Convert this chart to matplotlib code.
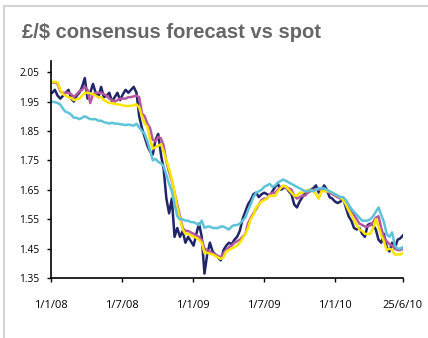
import matplotlib.pyplot as plt
import matplotlib.dates as mdates
from matplotlib.lines import Line2D
import pandas as pd

# weekly observations, first Friday of 2008 to 25 June 2010
dates = pd.date_range("2008-01-04", periods=130, freq="7D")

spot = [1.98, 1.99, 1.97, 1.96, 1.97, 1.98, 1.99, 1.96, 1.95, 1.97,
        1.98, 2.00, 2.03, 1.96, 1.98, 2.01, 1.98, 1.965, 2.00, 1.965,
        1.97, 1.98, 1.95, 1.965, 1.98, 1.955, 1.975, 1.99, 1.98, 1.99,
        2.00, 1.98, 1.90, 1.86, 1.83, 1.80, 1.78, 1.77, 1.82, 1.84,
        1.77, 1.72, 1.62, 1.57, 1.62, 1.49, 1.52, 1.49, 1.51, 1.47,
        1.49, 1.475, 1.46, 1.50, 1.535, 1.49, 1.365, 1.43, 1.47, 1.44,
        1.43, 1.42, 1.41, 1.445, 1.46, 1.47, 1.465, 1.48, 1.49, 1.51,
        1.55, 1.575, 1.60, 1.615, 1.635, 1.64, 1.625, 1.635, 1.64, 1.635,
        1.63, 1.645, 1.66, 1.67, 1.65, 1.655, 1.66, 1.645, 1.635, 1.60,
        1.59, 1.61, 1.625, 1.64, 1.645, 1.65, 1.655, 1.665, 1.64, 1.645,
        1.665, 1.65, 1.625, 1.62, 1.61, 1.605, 1.61, 1.62, 1.59, 1.56,
        1.545, 1.52, 1.515, 1.52, 1.50, 1.49, 1.53, 1.535, 1.53, 1.515,
        1.48, 1.47, 1.50, 1.455, 1.44, 1.47, 1.45, 1.48, 1.485, 1.495]

fc_cyan = [1.95, 1.948, 1.945, 1.94, 1.925, 1.915, 1.912, 1.905, 1.895, 1.895,
           1.89, 1.895, 1.90, 1.895, 1.89, 1.89, 1.89, 1.885, 1.885, 1.88,
           1.878, 1.875, 1.878, 1.875, 1.875, 1.873, 1.872, 1.87, 1.872, 1.87,
           1.868, 1.875, 1.862, 1.85, 1.84, 1.815, 1.785, 1.75, 1.755, 1.745,
           1.74, 1.73, 1.70, 1.67, 1.645, 1.60, 1.56, 1.55, 1.55, 1.545,
           1.545, 1.54, 1.54, 1.535, 1.53, 1.545, 1.52, 1.525, 1.525, 1.52,
           1.52, 1.52, 1.525, 1.525, 1.52, 1.515, 1.525, 1.53, 1.53, 1.535,
           1.545, 1.555, 1.58, 1.60, 1.625, 1.64, 1.645, 1.65, 1.66, 1.665,
           1.67, 1.66, 1.665, 1.675, 1.68, 1.685, 1.68, 1.675, 1.67, 1.665,
           1.66, 1.655, 1.65, 1.645, 1.645, 1.65, 1.645, 1.65, 1.655, 1.655,
           1.655, 1.65, 1.645, 1.64, 1.635, 1.63, 1.625, 1.625, 1.615, 1.60,
           1.585, 1.575, 1.565, 1.555, 1.545, 1.545, 1.545, 1.55, 1.56, 1.575,
           1.59, 1.565, 1.54, 1.50, 1.49, 1.505, 1.46, 1.45, 1.45, 1.455]

fc_magenta = [2.015, 2.015, 2.01, 1.985, 1.98, 1.98, 1.98, 1.975, 1.965, 1.975,
              1.985, 1.99, 2.00, 1.99, 1.945, 1.975, 1.98, 1.98, 1.98, 1.975,
              1.97, 1.96, 1.955, 1.95, 1.955, 1.96, 1.96, 1.96, 1.965, 1.965,
              1.968, 1.97, 1.965, 1.91, 1.90, 1.875, 1.86, 1.82, 1.815, 1.83,
              1.825, 1.80, 1.745, 1.71, 1.68, 1.64, 1.60, 1.56, 1.52, 1.51,
              1.51, 1.505, 1.50, 1.495, 1.49, 1.48, 1.45, 1.445, 1.44, 1.435,
              1.43, 1.425, 1.42, 1.435, 1.445, 1.455, 1.46, 1.47, 1.475, 1.48,
              1.49, 1.50, 1.535, 1.555, 1.57, 1.585, 1.60, 1.615, 1.62, 1.62,
              1.635, 1.64, 1.64, 1.65, 1.66, 1.66, 1.655, 1.655, 1.65, 1.63,
              1.62, 1.625, 1.63, 1.63, 1.64, 1.645, 1.65, 1.65, 1.65, 1.65,
              1.65, 1.645, 1.64, 1.635, 1.63, 1.625, 1.62, 1.615, 1.61, 1.595,
              1.58, 1.565, 1.55, 1.535, 1.53, 1.525, 1.525, 1.53, 1.54, 1.555,
              1.56, 1.52, 1.49, 1.475, 1.465, 1.46, 1.45, 1.445, 1.445, 1.45]

fc_yellow = [2.017, 2.017, 2.015, 1.99, 1.975, 1.97, 1.965, 1.962, 1.955, 1.958,
             1.96, 1.97, 1.98, 1.98, 1.978, 1.975, 1.97, 1.965, 1.965, 1.955,
             1.95, 1.945, 1.945, 1.942, 1.94, 1.94, 1.937, 1.935, 1.935, 1.935,
             1.938, 1.94, 1.93, 1.90, 1.875, 1.865, 1.82, 1.79, 1.795, 1.80,
             1.805, 1.78, 1.75, 1.72, 1.685, 1.64, 1.59, 1.55, 1.515, 1.50,
             1.50, 1.495, 1.49, 1.487, 1.48, 1.47, 1.435, 1.435, 1.433, 1.43,
             1.425, 1.42, 1.415, 1.42, 1.44, 1.445, 1.45, 1.455, 1.46, 1.47,
             1.485, 1.50, 1.52, 1.55, 1.565, 1.59, 1.60, 1.61, 1.615, 1.62,
             1.63, 1.63, 1.63, 1.645, 1.655, 1.665, 1.66, 1.65, 1.64, 1.63,
             1.63, 1.64, 1.64, 1.645, 1.65, 1.65, 1.645, 1.635, 1.62, 1.645,
             1.645, 1.645, 1.645, 1.64, 1.635, 1.63, 1.625, 1.615, 1.60, 1.58,
             1.565, 1.545, 1.53, 1.515, 1.51, 1.50, 1.50, 1.50, 1.52, 1.55,
             1.525, 1.495, 1.475, 1.445, 1.45, 1.445, 1.43, 1.43, 1.43, 1.435]

tick_dates = pd.to_datetime(["2008-01-01", "2008-07-01", "2009-01-01",
                             "2009-07-01", "2010-01-01", "2010-06-25"])
tick_labels = ["1/1/08", "1/7/08", "1/1/09", "1/7/09", "1/1/10", "25/6/10"]
y_ticks = [1.35, 1.45, 1.55, 1.65, 1.75, 1.85, 1.95, 2.05]

plt.rcParams["font.family"] = ["Open Sans", "DejaVu Sans"]

fig = plt.figure(figsize=(4.28, 3.38), dpi=100)
ax = fig.add_axes([51 / 428, 1 - 278 / 338, 352 / 428, 217 / 338])

ax.plot(dates, spot, color="#1f2568", lw=1.8)
ax.plot(dates, fc_magenta, color="#b4589f", lw=1.8)
ax.plot(dates, fc_yellow, color="#fde400", lw=1.8)
ax.plot(dates, fc_cyan, color="#5ec3d8", lw=1.8)

ax.set_xlim(pd.Timestamp("2008-01-01"), pd.Timestamp("2010-06-25"))
ax.set_ylim(1.35, 2.088)
ax.set_xticks(mdates.date2num(tick_dates))
ax.set_xticklabels(tick_labels)
ax.set_yticks(y_ticks)
ax.set_yticklabels([f"{v:.2f}" for v in y_ticks])
ax.tick_params(axis="x", length=3, width=1, pad=13, labelsize=8)
ax.tick_params(axis="y", length=3, width=1, pad=5.5, labelsize=7.3)

for s in ["top", "right"]:
    ax.spines[s].set_visible(False)
for s in ["left", "bottom"]:
    ax.spines[s].set_linewidth(1.2)

fig.text(22 / 428, 1 - 33 / 338, "£/$ consensus forecast vs spot",
         fontsize=14.5, fontweight="bold", color="#666666",
         family=["Liberation Sans", "DejaVu Sans"], va="center", ha="left")

# light grey frame on the left and top
fig.add_artist(Line2D([4 / 428, 4 / 428], [0, 1 - 6 / 338],
                      transform=fig.transFigure, color="#d4d4d4", lw=1.5))
fig.add_artist(Line2D([4 / 428, 1], [1 - 6 / 338, 1 - 6 / 338],
                      transform=fig.transFigure, color="#d4d4d4", lw=1.5))

fig.savefig("out.png", dpi=100)
